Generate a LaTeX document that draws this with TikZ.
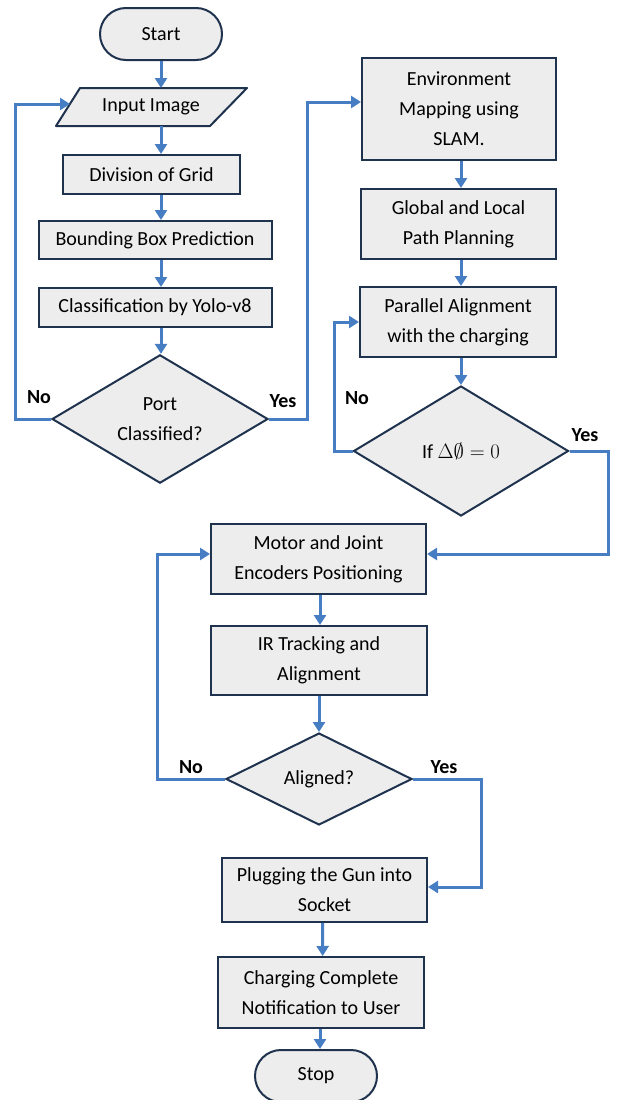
\documentclass[tikz,border=0pt]{standalone}
\usepackage{fontspec}
\setmainfont{Carlito}
\usetikzlibrary{arrows.meta,shapes.geometric}
\definecolor{boxfill}{RGB}{237,237,237}
\definecolor{boxline}{RGB}{31,50,78}
\definecolor{flow}{RGB}{70,125,195}
\begin{document}
\begin{tikzpicture}[x=1pt,y=-1pt,
  every node/.style={font=\fontsize{20}{30}\selectfont},
  proc/.style={draw=boxline, fill=boxfill, line width=2pt, align=center, inner sep=0pt},
  term/.style={proc, rounded corners=26pt, minimum width=122pt, minimum height=52pt},
  dec/.style={draw=boxline, fill=boxfill, line width=2pt, diamond, align=center, inner sep=0pt},
  flowline/.style={draw=flow, line width=3pt, -{Triangle[length=10pt,width=12pt]}},
  lbl/.style={font=\fontsize{20}{22}\selectfont\bfseries}]
\useasboundingbox[fill=white] (0,0) rectangle (616,1100);

% left column
\node[term] (start) at (161,34) {Start};
\path[draw=boxline, fill=boxfill, line width=2pt, line join=round] (80,88) -- (247,88) -- (210,126) -- (56,126) -- cycle;
\node (inp) at (151,107) {Input Image};
\coordinate (inpT) at (161,88);
\coordinate (inpB) at (161,126);
\coordinate (inpL) at (70,104);
\node[proc, minimum width=177pt, minimum height=39pt] (div) at (151.5,174.5) {Division of Grid};
\node[proc, minimum width=233pt, minimum height=38pt] (bbox) at (155,240) {Bounding Box Prediction};
\node[proc, minimum width=233pt, minimum height=39pt] (cls) at (155,307.5) {Classification by Yolo-v8};
\node[dec, minimum width=216pt, minimum height=128pt] (port) at (160,419) {Port\\Classified?};

% right column
\node[proc, minimum width=194pt, minimum height=102pt] (env) at (459,109) {Environment\\Mapping using\\SLAM.};
\node[proc, minimum width=195pt, minimum height=70pt] (glob) at (458.5,224) {Global and Local\\Path Planning};
\node[proc, minimum width=196pt, minimum height=70pt] (par) at (458,322) {Parallel Alignment\\with the charging};
\node[dec, minimum width=215pt, minimum height=130pt] (ifd) at (461,451) {If \(\Delta\emptyset = 0\)};

% middle column
\node[proc, minimum width=215pt, minimum height=70pt] (mot) at (318.5,559) {Motor and Joint\\Encoders Positioning};
\node[proc, minimum width=216pt, minimum height=69pt] (ir) at (319,660.5) {IR Tracking and\\Alignment};
\node[dec, minimum width=186pt, minimum height=92pt] (ali) at (319,779) {Aligned?};
\node[proc, minimum width=205pt, minimum height=64pt] (plug) at (324.5,890) {Plugging the Gun into\\Socket};
\node[proc, minimum width=206pt, minimum height=71pt] (chg) at (321,992.5) {Charging Complete\\Notification to User};
\node[term] (stop) at (316,1076) {Stop};

% connectors left column
\draw[flowline] (start.south) -- (inpT);
\draw[flowline] (inpB) -- (inpB |- div.north);
\draw[flowline] (div.south -| start) -- (bbox.north -| start);
\draw[flowline] (bbox.south -| start) -- (cls.north -| start);
\draw[flowline] (cls.south -| start) -- (port.north -| start);
\draw[flowline] (port.west) -- ++(-36,0) |- (inpL);
\draw[flowline] (port.east) -- ++(38,0) |- ([yshift=7pt]env.west);

% connectors right column
\draw[flowline] (env.south -| ifd) -- (glob.north -| ifd);
\draw[flowline] (glob.south -| ifd) -- (par.north -| ifd);
\draw[flowline] (par.south -| ifd) -- (ifd.north);
\draw[flowline] (ifd.west) -- ++(-18,0) |- (par.west);
\draw[flowline] (ifd.east) -- ++(39,0) |- ([yshift=5pt]mot.east);

% connectors middle column
\draw[flowline] ([xshift=1.5pt]mot.south) -- ([xshift=1pt]ir.north);
\draw[flowline] (ir.south) -- (ali.north);
\draw[flowline] (ali.west) -- ++(-68,0) |- ([yshift=5pt]mot.west);
\draw[flowline] (ali.east) -- ++(68,0) |- ([yshift=3pt]plug.east);
\draw[flowline] ([xshift=-2pt]plug.south) -- ([xshift=1.7pt]chg.north);
\draw[flowline] ([xshift=-1pt]chg.south) -- ([xshift=4pt]stop.north);

% labels
\node[lbl] (no1) at (39,397) {No};
\node[lbl] (yes1) at (283,401) {Yes};
\node[lbl] (no2) at (357,398) {No};
\node[lbl] (yes2) at (585,435) {Yes};
\node[lbl] (no3) at (191,767) {No};
\node[lbl] (yes3) at (444,767) {Yes};
\end{tikzpicture}
\end{document}
